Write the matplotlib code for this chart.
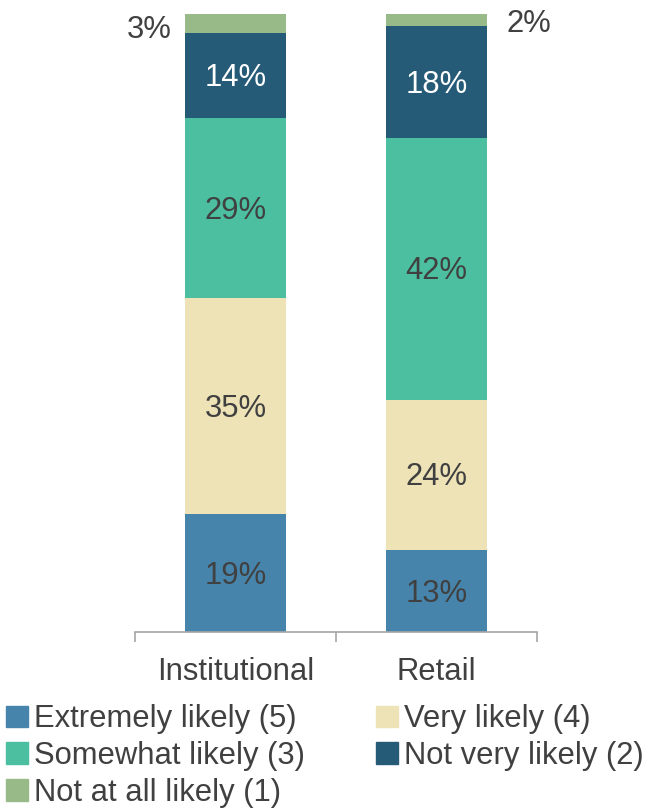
import matplotlib.pyplot as plt
import numpy as np
from matplotlib.patches import Patch

plt.rcParams['font.family'] = ['Liberation Sans', 'DejaVu Sans']

categories = ["Institutional", "Retail"]
levels = ["Extremely likely (5)", "Very likely (4)", "Somewhat likely (3)",
          "Not very likely (2)", "Not at all likely (1)"]
# segment shares as drawn (labels are rounded)
extremely = [19.1, 13.3]
very = [35.0, 24.3]
somewhat = [29.0, 42.4]
not_very = [13.9, 18.0]
not_at_all = [3.0, 2.0]

colors = ["#4784AC", "#EDE3B7", "#4BBF9F", "#265B78", "#98BA88"]
label_colors = ["#404040", "#404040", "#404040", "white", None]
TEXT = "#404040"
FS = 22.3

fig = plt.figure(figsize=(6.5, 8.09), dpi=100)
ax = fig.add_axes([135 / 650, 1 - 632 / 809, 402 / 650, 618 / 809])

series = [extremely, very, somewhat, not_very, not_at_all]
x = np.arange(len(categories))
bottom = np.zeros(len(categories))
for vals, col, lc in zip(series, colors, label_colors):
    vals = np.array(vals, dtype=float)
    ax.bar(x, vals, width=0.5, bottom=bottom, color=col)
    if lc is not None:
        for xi, b, v in zip(x, bottom, vals):
            ax.annotate(f"{v:.0f}%", (xi, b + v / 2), xytext=(0, -2),
                        textcoords='offset points', ha='center', va='center',
                        color=lc, fontsize=FS)
    bottom = bottom + vals

# small top segment labels sit outside the bars
top_b = bottom - np.array(not_at_all)
ax.annotate(f"{not_at_all[0]:.0f}%", (x[0] - 0.25, top_b[0] + not_at_all[0] / 2),
            xytext=(-10, -5), textcoords='offset points', ha='right', va='center',
            color=TEXT, fontsize=FS)
ax.annotate(f"{not_at_all[1]:.0f}%", (x[1] + 0.25, top_b[1] + not_at_all[1] / 2),
            xytext=(14, -3), textcoords='offset points', ha='left', va='center',
            color=TEXT, fontsize=FS)

ax.set_xlim(-0.5, 1.5)
ax.set_ylim(0, 100)
for s in ['top', 'right', 'left']:
    ax.spines[s].set_visible(False)
ax.spines['bottom'].set_color('#A6A6A6')
ax.spines['bottom'].set_linewidth(1.2)
ax.set_yticks([])
ax.set_xticks([-0.5, 0.5, 1.5])
ax.set_xticklabels([])
ax.tick_params(axis='x', length=7, width=1.2, color='#A6A6A6')
ax.set_xticks(x, minor=True)
ax.set_xticklabels(categories, minor=True, fontsize=FS, color=TEXT)
ax.tick_params(axis='x', which='minor', length=0, pad=18)

handles = [Patch(color=c) for c in colors]
order = [0, 2, 4, 1, 3]
fig.legend([handles[i] for i in order], [levels[i] for i in order],
           loc='upper left', bbox_to_anchor=(0.0, 1 - 698 / 809), ncol=2,
           frameon=False, fontsize=FS, handlelength=0.7, handleheight=0.7,
           handletextpad=0.2, labelspacing=0.22, columnspacing=2.3,
           borderpad=0.2, borderaxespad=0, labelcolor=TEXT)

fig.savefig("out.png", dpi=100)
